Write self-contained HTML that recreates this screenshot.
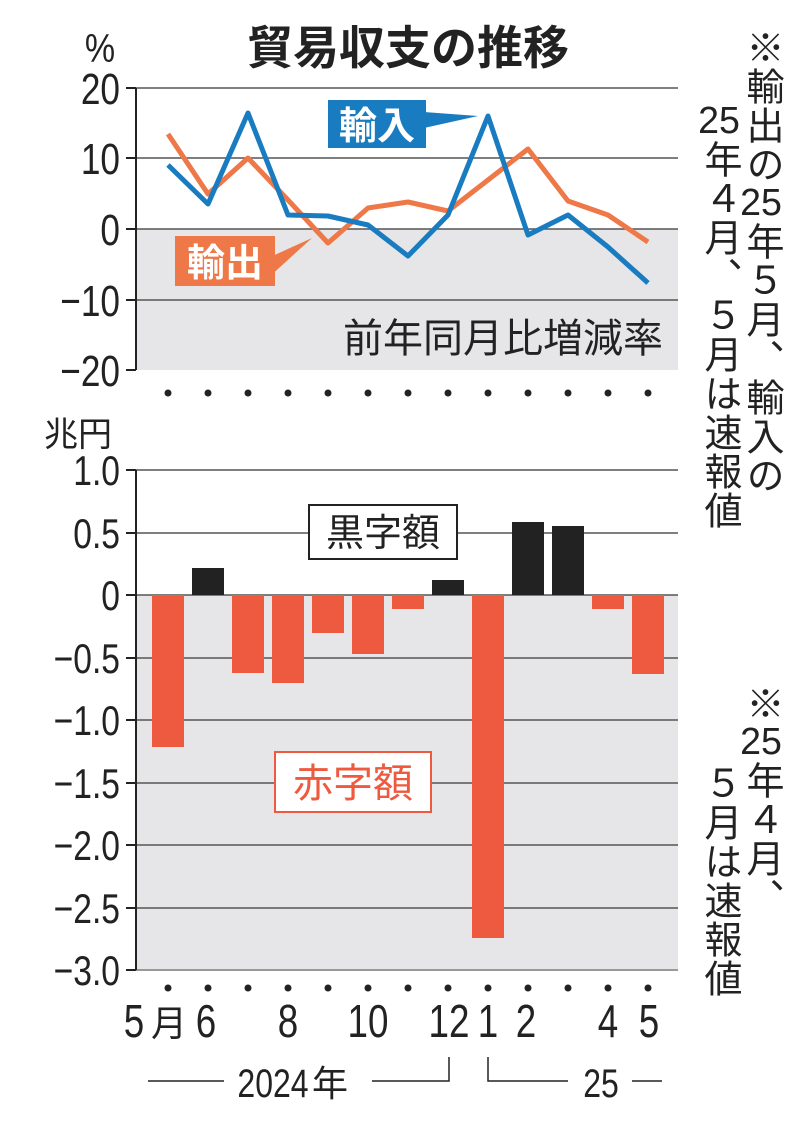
<!DOCTYPE html>
<html><head><meta charset="utf-8"><style>
html,body{margin:0;padding:0;background:#fff;}
#w{position:relative;width:800px;height:1128px;overflow:hidden;font-family:"Liberation Sans","Noto Sans CJK JP",sans-serif;}
.v{position:absolute;writing-mode:vertical-rl;font-size:38px;line-height:40px;color:#222;font-family:"Liberation Sans","Noto Sans CJK JP",sans-serif;letter-spacing:1px;}
.tcy{text-combine-upright:all;}
svg{position:absolute;left:0;top:0;}
</style></head><body><div id="w">
<svg width="800" height="1128" viewBox="0 0 800 1128" font-family="Liberation Sans, Noto Sans CJK JP, sans-serif">
<text x="408" y="64" font-size="46" font-weight="bold" text-anchor="middle" fill="#222">貿易収支の推移</text>
<text x="100" y="62" font-size="40" text-anchor="middle" fill="#222" transform="translate(100,0) scale(0.85,1) translate(-100,0)">%</text>
<rect x="136" y="229" width="542" height="141" fill="#e6e6e8"/>
<g stroke="#555" stroke-width="1.5">
<line x1="136" y1="88" x2="678" y2="88"/><line x1="136" y1="158" x2="678" y2="158"/>
<line x1="136" y1="229" x2="678" y2="229"/><line x1="136" y1="300" x2="678" y2="300"/>
</g>
<g stroke="#222" stroke-width="2"><line x1="136" y1="88" x2="136" y2="370"/>
<line x1="126" y1="88" x2="136" y2="88"/><line x1="126" y1="158" x2="136" y2="158"/><line x1="126" y1="229" x2="136" y2="229"/><line x1="126" y1="300" x2="136" y2="300"/><line x1="126" y1="370" x2="136" y2="370"/></g>
<g font-size="44" fill="#222" text-anchor="end" transform="scale(0.8,1)">
<text x="150" y="104">20</text><text x="150" y="174">10</text><text x="150" y="245">0</text><text x="150" y="316">−10</text><text x="150" y="386">−20</text>
</g>
<text x="503" y="352" font-size="40" text-anchor="middle" fill="#222">前年同月比増減率</text>
<polyline fill="none" stroke="#ee7847" stroke-width="5" stroke-linejoin="round" points="168,134 208,194 248,158 288,200 328,243 368,208 408,202 448,211 488,180 528,149 568,201 608,215 648,242"/>
<polyline fill="none" stroke="#1a7cc0" stroke-width="5" stroke-linejoin="round" points="168,165 208,204 248,113 288,215 328,216 368,225 408,256 448,215 488,116 528,235 568,215 608,247 648,283"/>
<polygon points="424,112 478,116 424,128" fill="#1a7cc0"/>
<rect x="328" y="100" width="98" height="48" fill="#1a7cc0"/>
<text x="377" y="139" font-size="38" font-weight="bold" fill="#fff" text-anchor="middle">輸入</text>
<polygon points="268,258 312,238 268,278" fill="#ee7847"/>
<rect x="175" y="236" width="100" height="50" fill="#ee7847"/>
<text x="225" y="276" font-size="38" font-weight="bold" fill="#fff" text-anchor="middle">輸出</text>
<g fill="#222">
<circle cx="168" cy="393" r="3.5"/><circle cx="208" cy="393" r="3.5"/><circle cx="248" cy="393" r="3.5"/><circle cx="288" cy="393" r="3.5"/><circle cx="328" cy="393" r="3.5"/><circle cx="368" cy="393" r="3.5"/><circle cx="408" cy="393" r="3.5"/><circle cx="448" cy="393" r="3.5"/><circle cx="488" cy="393" r="3.5"/><circle cx="528" cy="393" r="3.5"/><circle cx="568" cy="393" r="3.5"/><circle cx="608" cy="393" r="3.5"/><circle cx="648" cy="393" r="3.5"/>
<circle cx="168" cy="988" r="3.5"/><circle cx="208" cy="988" r="3.5"/><circle cx="248" cy="988" r="3.5"/><circle cx="288" cy="988" r="3.5"/><circle cx="328" cy="988" r="3.5"/><circle cx="368" cy="988" r="3.5"/><circle cx="408" cy="988" r="3.5"/><circle cx="448" cy="988" r="3.5"/><circle cx="488" cy="988" r="3.5"/><circle cx="528" cy="988" r="3.5"/><circle cx="568" cy="988" r="3.5"/><circle cx="608" cy="988" r="3.5"/><circle cx="648" cy="988" r="3.5"/>
</g>
<text x="78" y="446" font-size="34" text-anchor="middle" fill="#222">兆円</text>
<rect x="136" y="595" width="542" height="375" fill="#e6e6e8"/>
<g stroke="#555" stroke-width="1.5">
<line x1="136" y1="470" x2="678" y2="470"/><line x1="136" y1="533" x2="678" y2="533"/><line x1="136" y1="595" x2="678" y2="595"/><line x1="136" y1="658" x2="678" y2="658"/><line x1="136" y1="720" x2="678" y2="720"/><line x1="136" y1="783" x2="678" y2="783"/><line x1="136" y1="845" x2="678" y2="845"/><line x1="136" y1="908" x2="678" y2="908"/><line x1="136" y1="970" x2="678" y2="970" stroke="#999" stroke-width="2"/>
</g>
<g stroke="#222" stroke-width="2"><line x1="136" y1="470" x2="136" y2="970"/>
<line x1="126" y1="470" x2="136" y2="470"/><line x1="126" y1="533" x2="136" y2="533"/><line x1="126" y1="595" x2="136" y2="595"/><line x1="126" y1="658" x2="136" y2="658"/><line x1="126" y1="720" x2="136" y2="720"/><line x1="126" y1="783" x2="136" y2="783"/><line x1="126" y1="845" x2="136" y2="845"/><line x1="126" y1="908" x2="136" y2="908"/><line x1="126" y1="970" x2="136" y2="970"/></g>
<g font-size="42" fill="#222" text-anchor="end" transform="scale(0.8,1)">
<text x="150" y="485">1.0</text><text x="150" y="548">0.5</text><text x="150" y="610">0</text><text x="150" y="673">−0.5</text><text x="150" y="735">−1.0</text><text x="150" y="798">−1.5</text><text x="150" y="860">−2.0</text><text x="150" y="923">−2.5</text><text x="150" y="985">−3.0</text>
</g>
<g fill="#ee5a3f">
<rect x="152" y="595" width="32" height="152"/><rect x="232" y="595" width="32" height="78"/><rect x="272" y="595" width="32" height="88"/><rect x="312" y="595" width="32" height="38"/><rect x="352" y="595" width="32" height="59"/><rect x="392" y="595" width="32" height="14"/><rect x="472" y="595" width="32" height="343"/><rect x="592" y="595" width="32" height="14"/><rect x="632" y="595" width="32" height="79"/>
</g>
<g fill="#222">
<rect x="192" y="568" width="32" height="27"/><rect x="432" y="580" width="32" height="15"/><rect x="512" y="522" width="32" height="73"/><rect x="552" y="526" width="32" height="69"/>
</g>
<rect x="309" y="505" width="148" height="54" fill="#fff" stroke="#222" stroke-width="2"/>
<text x="383" y="546" font-size="38" text-anchor="middle" fill="#222">黒字額</text>
<rect x="275" y="752" width="156" height="60" fill="#fff" stroke="#ee5a3f" stroke-width="2"/>
<text x="353" y="797" font-size="40" text-anchor="middle" fill="#ee5a3f">赤字額</text>
<g font-size="46" fill="#222" text-anchor="middle">
<text transform="translate(134,1037) scale(0.8,1)">5</text>
<text transform="translate(206,1037) scale(0.8,1)">6</text>
<text transform="translate(288,1037) scale(0.8,1)">8</text>
<text transform="translate(368,1037) scale(0.8,1)">10</text>
<text transform="translate(449,1037) scale(0.8,1)">12</text>
<text transform="translate(488,1037) scale(0.8,1)">1</text>
<text transform="translate(526,1037) scale(0.8,1)">2</text>
<text transform="translate(608,1037) scale(0.8,1)">4</text>
<text transform="translate(649,1037) scale(0.8,1)">5</text>
</g>
<text x="169" y="1036" font-size="36" fill="#222" text-anchor="middle">月</text>
<g stroke="#222" stroke-width="1.5" fill="none">
<line x1="148" y1="1081" x2="224" y2="1081"/>
<polyline points="372,1081 449,1081 449,1057"/>
<polyline points="488,1057 488,1081 568,1081"/>
<line x1="632" y1="1081" x2="662" y2="1081"/>
</g>
<g font-size="40" fill="#222" text-anchor="middle">
<text transform="translate(273,1097) scale(0.8,1)">2024</text>
<text transform="translate(601,1097) scale(0.8,1)">25</text>
</g>
<text x="312" y="1096" font-size="36" fill="#222">年</text>
</svg>
<div class="v" style="left:741px;top:28px;">※輸出の<span class="tcy">25</span>年５月、輸入の</div>
<div class="v" style="left:699px;top:102px;"><span class="tcy">25</span>年４月、５月は速報値</div>
<div class="v" style="left:741px;top:684px;">※<span class="tcy">25</span>年４月、</div>
<div class="v" style="left:699px;top:764px;">５月は速報値</div>
</div></body></html>
